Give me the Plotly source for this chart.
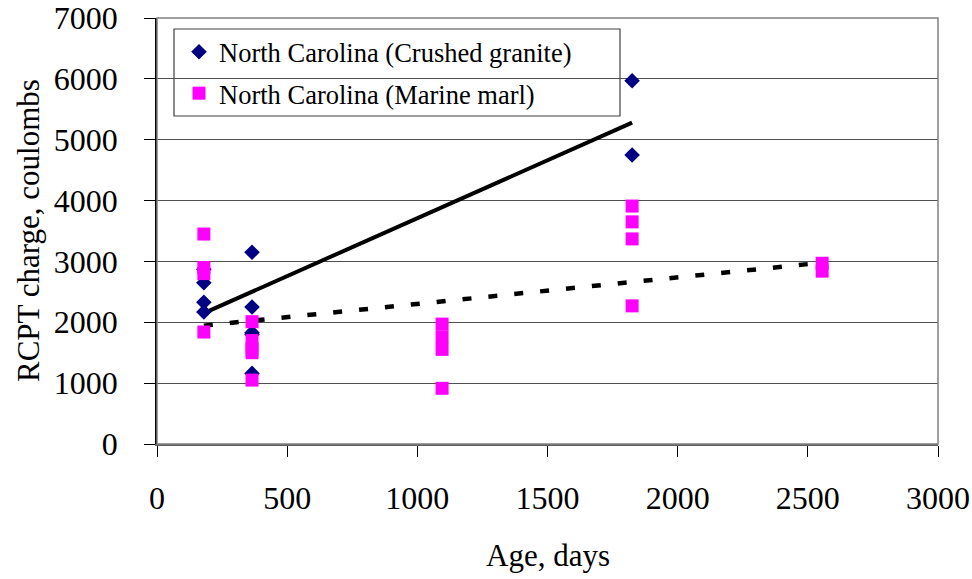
import plotly.graph_objects as go

# Data
granite_age = [180, 180, 180, 180, 365, 365, 365, 365, 365, 1825, 1825]
granite_rcpt = [2870, 2650, 2330, 2170, 3150, 2250, 1830, 1800, 1160, 5970, 4750]

marl_age = [180, 180, 180, 180, 365, 365, 365, 365, 365,
            1095, 1095, 1095, 1095, 1825, 1825, 1825, 1825, 2555, 2555]
marl_rcpt = [3450, 2900, 2800, 1840, 2010, 1700, 1560, 1500, 1050,
             1970, 1760, 1555, 915, 3910, 3650, 3370, 2270, 2970, 2840]

# Linear trendline end points
granite_trend_x = [180, 1825]
granite_trend_y = [2150, 5280]
marl_trend_x = [180, 2555]
marl_trend_y = [1945, 2980]

x_ticks = [0, 500, 1000, 1500, 2000, 2500, 3000]
y_ticks = [0, 1000, 2000, 3000, 4000, 5000, 6000, 7000]

FONT = "Liberation Serif"
PW, PH, L, T = 781, 426, 157, 18


def px(xp):
    return (xp - L) / PW


def py(yp):
    return (T + PH - yp) / PH


fig = go.Figure()

fig.add_trace(go.Scatter(
    x=granite_trend_x, y=granite_trend_y, mode="lines",
    line=dict(color="black", width=4), showlegend=False, hoverinfo="skip"))
fig.add_trace(go.Scatter(
    x=marl_trend_x, y=marl_trend_y, mode="lines",
    line=dict(color="black", width=4.5, dash="9px,17px"), showlegend=False,
    hoverinfo="skip"))

fig.add_trace(go.Scatter(
    x=granite_age, y=granite_rcpt, mode="markers",
    name="North Carolina (Crushed granite)", legendgroup="g1",
    marker=dict(symbol="diamond", color="#000080", size=12, line=dict(width=0))))
fig.add_trace(go.Scatter(
    x=marl_age, y=marl_rcpt, mode="markers",
    name="North Carolina (Marine marl)", legendgroup="g2",
    marker=dict(symbol="square", color="#FF00FF", size=13, line=dict(width=0))))

fig.update_layout(
    width=972, height=579,
    margin=dict(l=L, r=972 - L - PW, t=T, b=579 - T - PH),
    paper_bgcolor="white", plot_bgcolor="white",
    font=dict(family=FONT, color="black", size=31),
    legend=dict(
        x=px(179), y=py(28), xanchor="left", yanchor="top",
        borderwidth=0, bgcolor="rgba(0,0,0,0)",
        font=dict(family=FONT, size=26.5, color="black"),
        tracegroupgap=4, itemsizing="trace"),
    shapes=[
        dict(type="rect", xref="paper", yref="paper", x0=px(174), y0=py(116),
             x1=px(620), y1=py(29), line=dict(color="#404040", width=1.2),
             fillcolor="white", layer="below"),
        dict(type="rect", xref="paper", yref="paper", x0=0, y0=0, x1=1, y1=1,
             line=dict(color="#808080", width=1.5), layer="above"),
    ],
    annotations=[
        dict(text="Age, days", xref="paper", yref="paper", x=0.5, y=py(555),
             xanchor="center", yanchor="middle", showarrow=False,
             font=dict(family=FONT, size=31)),
        dict(text="RCPT charge, coulombs", xref="paper", yref="paper",
             x=px(28), y=0.5, textangle=-90,
             xanchor="center", yanchor="middle", showarrow=False,
             font=dict(family=FONT, size=31)),
    ],
)

fig.update_xaxes(
    range=[0, 3000], tickvals=x_ticks, ticktext=[str(v) for v in x_ticks],
    showgrid=False, zeroline=False, automargin=False,
    showline=True, linecolor="#606060", linewidth=1.5,
    ticks="outside", ticklen=11, tickcolor="black", tickwidth=1.2,
    ticklabelstandoff=14, tickfont=dict(family=FONT, size=32))
fig.update_yaxes(
    range=[0, 7000], tickvals=y_ticks, ticktext=[str(v) for v in y_ticks],
    showgrid=True, gridcolor="#505050", gridwidth=1, zeroline=False,
    automargin=False,
    showline=True, linecolor="black", linewidth=1.5,
    ticks="outside", ticklen=11, tickcolor="black", tickwidth=1.2,
    ticklabelstandoff=20, tickfont=dict(family=FONT, size=32))

fig.write_html("out.html")
